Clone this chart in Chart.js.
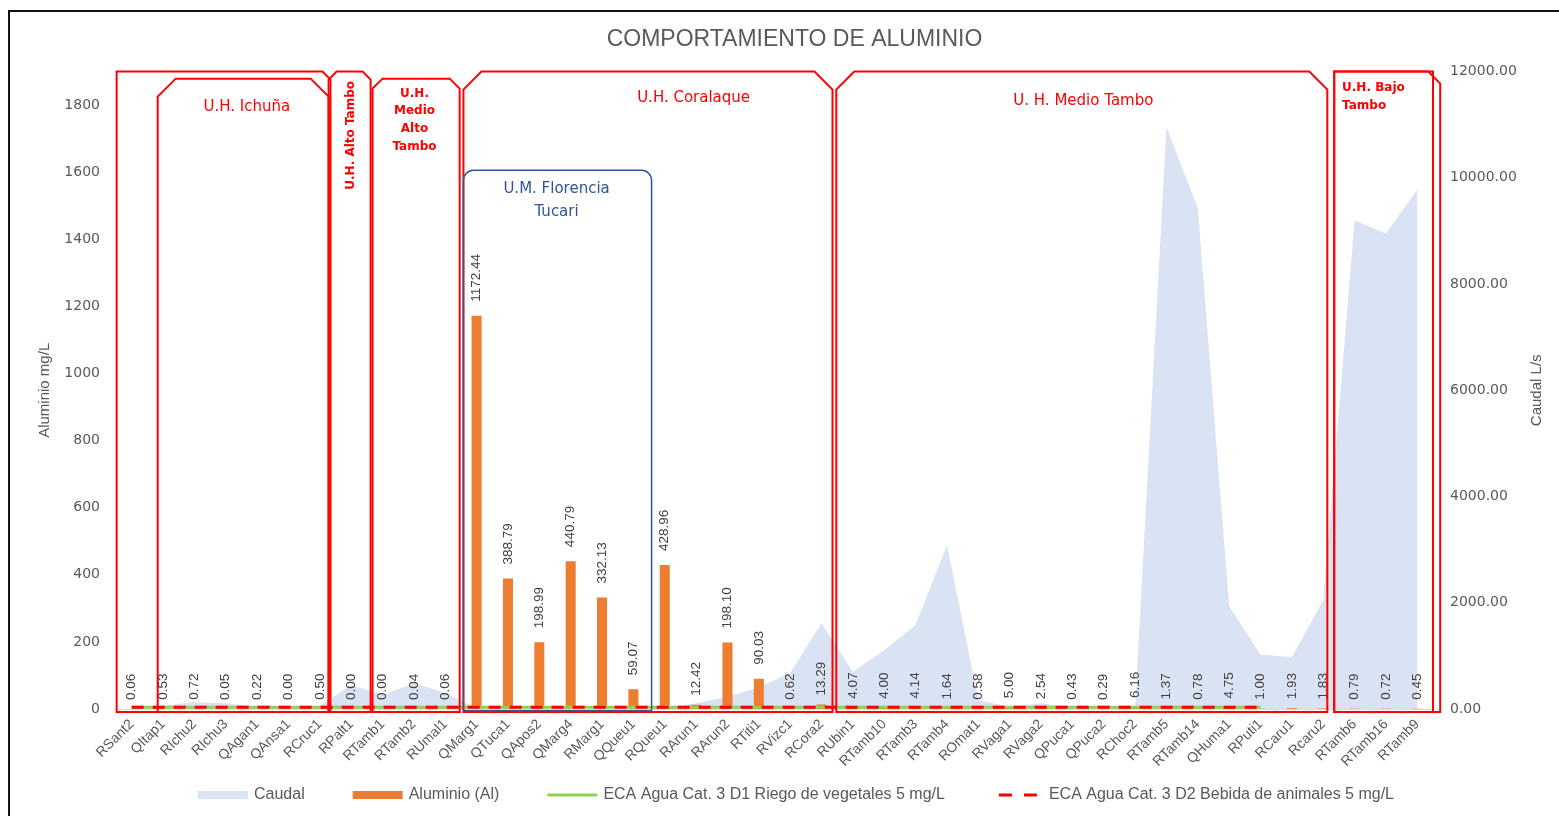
<!DOCTYPE html>
<html>
<head>
<meta charset="utf-8">
<title>Comportamiento de aluminio</title>
<script src="https://cdn.jsdelivr.net/npm/chart.js@4.4.0/dist/chart.umd.min.js"></script>
<style>
  html, body { margin: 0; padding: 0; background: #fff; }
  #frame { position: absolute; left: 8px; top: 10px; width: 1549px; height: 804px;
           border-left: 2px solid #111; border-top: 2px solid #111; }
  #wrap { position: absolute; left: 0; top: 0; width: 1549px; height: 804px; }
</style>
</head>
<body>
<div id="frame"><div id="wrap"><canvas id="chart"></canvas></div></div>
<script>
// sampling points
const estaciones = ['RSant2', 'QItap1', 'RIchu2', 'RIchu3', 'QAgan1', 'QAnsa1', 'RCruc1', 'RPalt1',
  'RTamb1', 'RTamb2', 'RUmal1', 'QMarg1', 'QTuca1', 'QApos2', 'QMarg4', 'RMarg1', 'QQueu1', 'RQueu1',
  'RArun1', 'RArun2', 'RTiti1', 'RVizc1', 'RCora2', 'RUbin1', 'RTamb10', 'RTamb3', 'RTamb4', 'ROmat1',
  'RVaga1', 'RVaga2', 'QPuca1', 'QPuca2', 'RChoc2', 'RTamb5', 'RTamb14', 'QHuma1', 'RPuti1', 'RCaru1',
  'Rcaru2', 'RTamb6', 'RTamb16', 'RTamb9'];

// aluminio mg/L
const aluminio = [0.06, 0.53, 0.72, 0.05, 0.22, 0.00, 0.50, 0.00, 0.00, 0.04, 0.06, 1172.44, 388.79,
  198.99, 440.79, 332.13, 59.07, 428.96, 12.42, 198.10, 90.03, 0.62, 13.29, 4.07, 4.00, 4.14, 1.64,
  0.58, 5.00, 2.54, 0.43, 0.29, 6.16, 1.37, 0.78, 4.75, 1.00, 1.93, 1.83, 0.79, 0.72, 0.45];

// caudal L/s
const caudal = [20, 60, 130, 110, 40, 20, 60, 450, 260, 490, 300, 20, 10, 10, 10, 10, 10, 10,
  110, 230, 410, 680, 1620, 700, 1110, 1580, 3090, 170, 40, 110, 30, 10, 40, 10950, 9430, 1940,
  1020, 980, 2050, 9200, 8950, 9780];

// ECA limits (only up to RPuti1)
const ecaRiego = [5, 5, 5, 5, 5, 5, 5, 5, 5, 5, 5, 5, 5, 5, 5, 5, 5, 5, 5, 5, 5, 5, 5, 5, 5, 5, 5,
  5, 5, 5, 5, 5, 5, 5, 5, 5, 5, null, null, null, null, null];
const ecaBebida = [5, 5, 5, 5, 5, 5, 5, 5, 5, 5, 5, 5, 5, 5, 5, 5, 5, 5, 5, 5, 5, 5, 5, 5, 5, 5, 5,
  5, 5, 5, 5, 5, 5, 5, 5, 5, 5, null, null, null, null, null];

const alTicks = [0, 200, 400, 600, 800, 1000, 1200, 1400, 1600, 1800];
const caudalTicks = [0, 2000, 4000, 6000, 8000, 10000, 12000];

// hydrographic unit boxes, in category index / mg/L units
const zones = [
  { from: -0.48, to: 6.34, top: 1900, cut: [0, 8] },
  { from: 0.83, to: 6.28, top: 1879, cut: [18, 18] },
  { from: 6.28, to: 7.62, top: 1900, cut: [8, 8] },
  { from: 7.68, to: 10.46, top: 1879, cut: [10, 10] },
  { from: 10.58, to: 22.35, top: 1900, cut: [18, 18] },
  { from: 22.47, to: 38.13, top: 1900, cut: [18, 18] },
  { from: 38.35, to: 41.5, top: 1900, cut: [0, 0] },
  { from: 38.35, to: 41.73, top: 1900, cut: [0, 12] },
  { from: 10.58, to: 16.58, top: 1606, bottom: -5, round: 10, color: '#2F5597' }
];

const zoneLabels = [
  { lines: ['U.H. Ichuña'], x: 3.67, y: 1794, font: '15px "DejaVu Sans"' },
  { lines: ['U.H. Alto Tambo'], x: 6.98, y: 1710, font: 'bold 12px "DejaVu Sans"', rotate: true },
  { lines: ['U.H.', 'Medio', 'Alto', 'Tambo'], x: 9.02, y: 1835, font: 'bold 12px "DejaVu Sans"', step: 17.7 },
  { lines: ['U.H. Coralaque'], x: 17.92, y: 1821, font: '15px "DejaVu Sans"' },
  { lines: ['U.M. Florencia', 'Tucari'], x: 13.55, y: 1549, font: '15px "DejaVu Sans"', step: 23, color: '#2F5597' },
  { lines: ['U. H. Medio Tambo'], x: 30.35, y: 1812, font: '15px "DejaVu Sans"' },
  { lines: ['U.H. Bajo', 'Tambo'], x: 38.6, y: 1850, font: 'bold 12px "DejaVu Sans"', step: 18, align: 'left' }
];

const labelFont = '"Liberation Sans", Arial, sans-serif';

// legend drawn by hand so the dashed key keeps its dashes
function drawLegend(chart) {
  const ctx = chart.ctx;
  const ds = chart.data.datasets;
  ctx.save();
  ctx.font = '16px ' + labelFont;
  const keyW = 50, textGap = 6, itemGap = 48;
  const widths = ds.map(d => keyW + textGap + ctx.measureText(d.label).width);
  const total = widths.reduce((a, b) => a + b, 0) + itemGap * (ds.length - 1);
  let x = 786 - total / 2;
  const y = chart.height - 21;
  ds.forEach((d, i) => {
    if (d.type === 'line' && d.fill === 'origin' || d.type === undefined) {
      ctx.fillStyle = d.backgroundColor;
      ctx.fillRect(x, y - 4, keyW, 8);
    } else {
      ctx.strokeStyle = d.borderColor;
      ctx.lineWidth = 3;
      ctx.setLineDash(d.borderDash ? [13, 12] : []);
      ctx.beginPath();
      ctx.moveTo(x + (d.borderDash ? 6 : 0), y);
      ctx.lineTo(x + (d.borderDash ? 44 : keyW), y);
      ctx.stroke();
      ctx.setLineDash([]);
    }
    ctx.fillStyle = '#595959';
    ctx.textAlign = 'left';
    ctx.textBaseline = 'middle';
    ctx.fillText(d.label, x + keyW + textGap, y);
    x += widths[i] + itemGap;
  });
  ctx.restore();
}

const overlayPlugin = {
  id: 'overlay',
  afterDatasetsDraw(chart) {
    const ctx = chart.ctx;
    const xs = chart.scales.x;
    const ys = chart.scales.y;
    const base = ys.getPixelForValue(0);
    // value labels, rotated like in the sheet
    ctx.save();
    ctx.font = '13.5px ' + labelFont;
    ctx.fillStyle = '#404040';
    ctx.textAlign = 'left';
    ctx.textBaseline = 'middle';
    aluminio.forEach((v, i) => {
      const px = xs.getPixelForValue(i);
      const top = Math.min(ys.getPixelForValue(v), base);
      const gap = v > 20 ? 14 : 9;
      ctx.save();
      ctx.translate(px, top - gap);
      ctx.rotate(-Math.PI / 2);
      ctx.fillText(v.toFixed(2), 0, 0);
      ctx.restore();
    });
    ctx.restore();
  },
  afterDraw(chart) {
    const ctx = chart.ctx;
    const xs = chart.scales.x;
    const ys = chart.scales.y;
    ctx.save();
    // boxes
    zones.forEach(z => {
      const l = xs.getPixelForValue(z.from);
      const r = xs.getPixelForValue(z.to);
      const t = ys.getPixelForValue(z.top);
      const b = ys.getPixelForValue(z.bottom !== undefined ? z.bottom : -9);
      ctx.strokeStyle = z.color || '#FF0000';
      ctx.lineWidth = z.color ? 1.5 : 2;
      ctx.beginPath();
      ctx.moveTo(l, b);
      if (z.round) {
        ctx.lineTo(l, t + z.round);
        ctx.arcTo(l, t, l + z.round, t, z.round);
        ctx.lineTo(r - z.round, t);
        ctx.arcTo(r, t, r, t + z.round, z.round);
      } else {
        ctx.lineTo(l, t + z.cut[0]);
        ctx.lineTo(l + z.cut[0], t);
        ctx.lineTo(r - z.cut[1], t);
        ctx.lineTo(r, t + z.cut[1]);
      }
      ctx.lineTo(r, b);
      ctx.closePath();
      ctx.stroke();
    });
    // box labels
    zoneLabels.forEach(lb => {
      ctx.font = lb.font;
      ctx.fillStyle = lb.color || '#FF0000';
      ctx.textBaseline = 'middle';
      const px = xs.getPixelForValue(lb.x);
      const py = ys.getPixelForValue(lb.y);
      if (lb.rotate) {
        ctx.save();
        ctx.translate(px, py);
        ctx.rotate(-Math.PI / 2);
        ctx.textAlign = 'center';
        ctx.fillText(lb.lines[0], 0, 0);
        ctx.restore();
      } else {
        ctx.textAlign = lb.align || 'center';
        lb.lines.forEach((s, k) => ctx.fillText(s, px, py + k * (lb.step || 0)));
      }
    });
    // right axis title, reading upwards
    const ca = chart.chartArea;
    ctx.save();
    ctx.translate(chart.width - 22, (ca.top + ca.bottom) / 2);
    ctx.rotate(-Math.PI / 2);
    ctx.font = '15px ' + labelFont;
    ctx.fillStyle = '#595959';
    ctx.textAlign = 'center';
    ctx.textBaseline = 'middle';
    ctx.fillText('Caudal L/s', 0, 0);
    ctx.restore();
    ctx.restore();
    drawLegend(chart);
  }
};

const ctx = document.getElementById('chart').getContext('2d');
new Chart(ctx, {
  type: 'bar',
  data: {
    labels: estaciones,
    datasets: [
      {
        type: 'line',
        label: 'Caudal',
        data: caudal,
        yAxisID: 'y1',
        fill: 'origin',
        backgroundColor: '#DAE3F3',
        borderColor: '#DAE3F3',
        borderWidth: 0,
        pointRadius: 0,
        tension: 0,
        order: 4
      },
      {
        label: 'Aluminio (Al)',
        data: aluminio,
        yAxisID: 'y',
        backgroundColor: '#ED7D31',
        borderWidth: 0,
        categoryPercentage: 0.8,
        barPercentage: 0.4,
        order: 3
      },
      {
        type: 'line',
        label: 'ECA Agua Cat. 3 D1 Riego de vegetales 5 mg/L',
        data: ecaRiego,
        yAxisID: 'y',
        borderColor: '#92D050',
        backgroundColor: '#92D050',
        borderWidth: 3,
        pointRadius: 0,
        fill: false,
        order: 2
      },
      {
        type: 'line',
        label: 'ECA Agua Cat. 3 D2 Bebida de animales 5 mg/L',
        data: ecaBebida,
        yAxisID: 'y',
        borderColor: '#FF0000',
        backgroundColor: '#FF0000',
        borderWidth: 3,
        borderDash: [12, 9],
        pointRadius: 0,
        fill: false,
        order: 1
      }
    ]
  },
  options: {
    responsive: true,
    maintainAspectRatio: false,
    animation: false,
    layout: { padding: { left: 20, right: 0, top: 0, bottom: 37 } },
    plugins: {
      title: {
        display: true,
        text: 'COMPORTAMIENTO DE ALUMINIO',
        color: '#595959',
        font: { family: labelFont, size: 23, weight: 'normal' },
        padding: { top: 14, bottom: 18 }
      },
      legend: { display: false },
      tooltip: { enabled: false }
    },
    scales: {
      x: {
        offset: true,
        grid: { display: true, drawOnChartArea: false, drawTicks: true, tickLength: 5, color: '#D9D9D9', offset: true },
        border: { display: true, color: '#D9D9D9' },
        ticks: {
          autoSkip: false,
          minRotation: 45,
          maxRotation: 45,
          padding: 2,
          color: '#595959',
          font: { family: labelFont, size: 14 }
        },
        afterFit(scale) { scale.height = 70; }
      },
      y: {
        position: 'left',
        min: 0,
        max: 1900,
        grid: { display: false, drawTicks: false },
        border: { display: false },
        afterBuildTicks(scale) { scale.ticks = alTicks.map(v => ({ value: v })); },
        ticks: {
          padding: 16,
          color: '#595959',
          font: { family: '"DejaVu Sans", Verdana, sans-serif', size: 14 },
          callback: v => String(v)
        },
        title: {
          display: true,
          text: 'Aluminio mg/L',
          color: '#595959',
          font: { family: labelFont, size: 15 },
          padding: { top: 6, bottom: 0 }
        },
        afterFit(scale) { scale.width = 86; }
      },
      y1: {
        position: 'right',
        min: 0,
        max: 12000,
        grid: { display: false, drawTicks: false },
        border: { display: false },
        afterBuildTicks(scale) { scale.ticks = caudalTicks.map(v => ({ value: v })); },
        ticks: {
          padding: 17,
          color: '#595959',
          font: { family: '"DejaVu Sans", Verdana, sans-serif', size: 14 },
          callback: v => Number(v).toFixed(2)
        },
        afterFit(scale) { scale.width = 126; }
      }
    }
  },
  plugins: [overlayPlugin]
});
</script>
</body>
</html>
